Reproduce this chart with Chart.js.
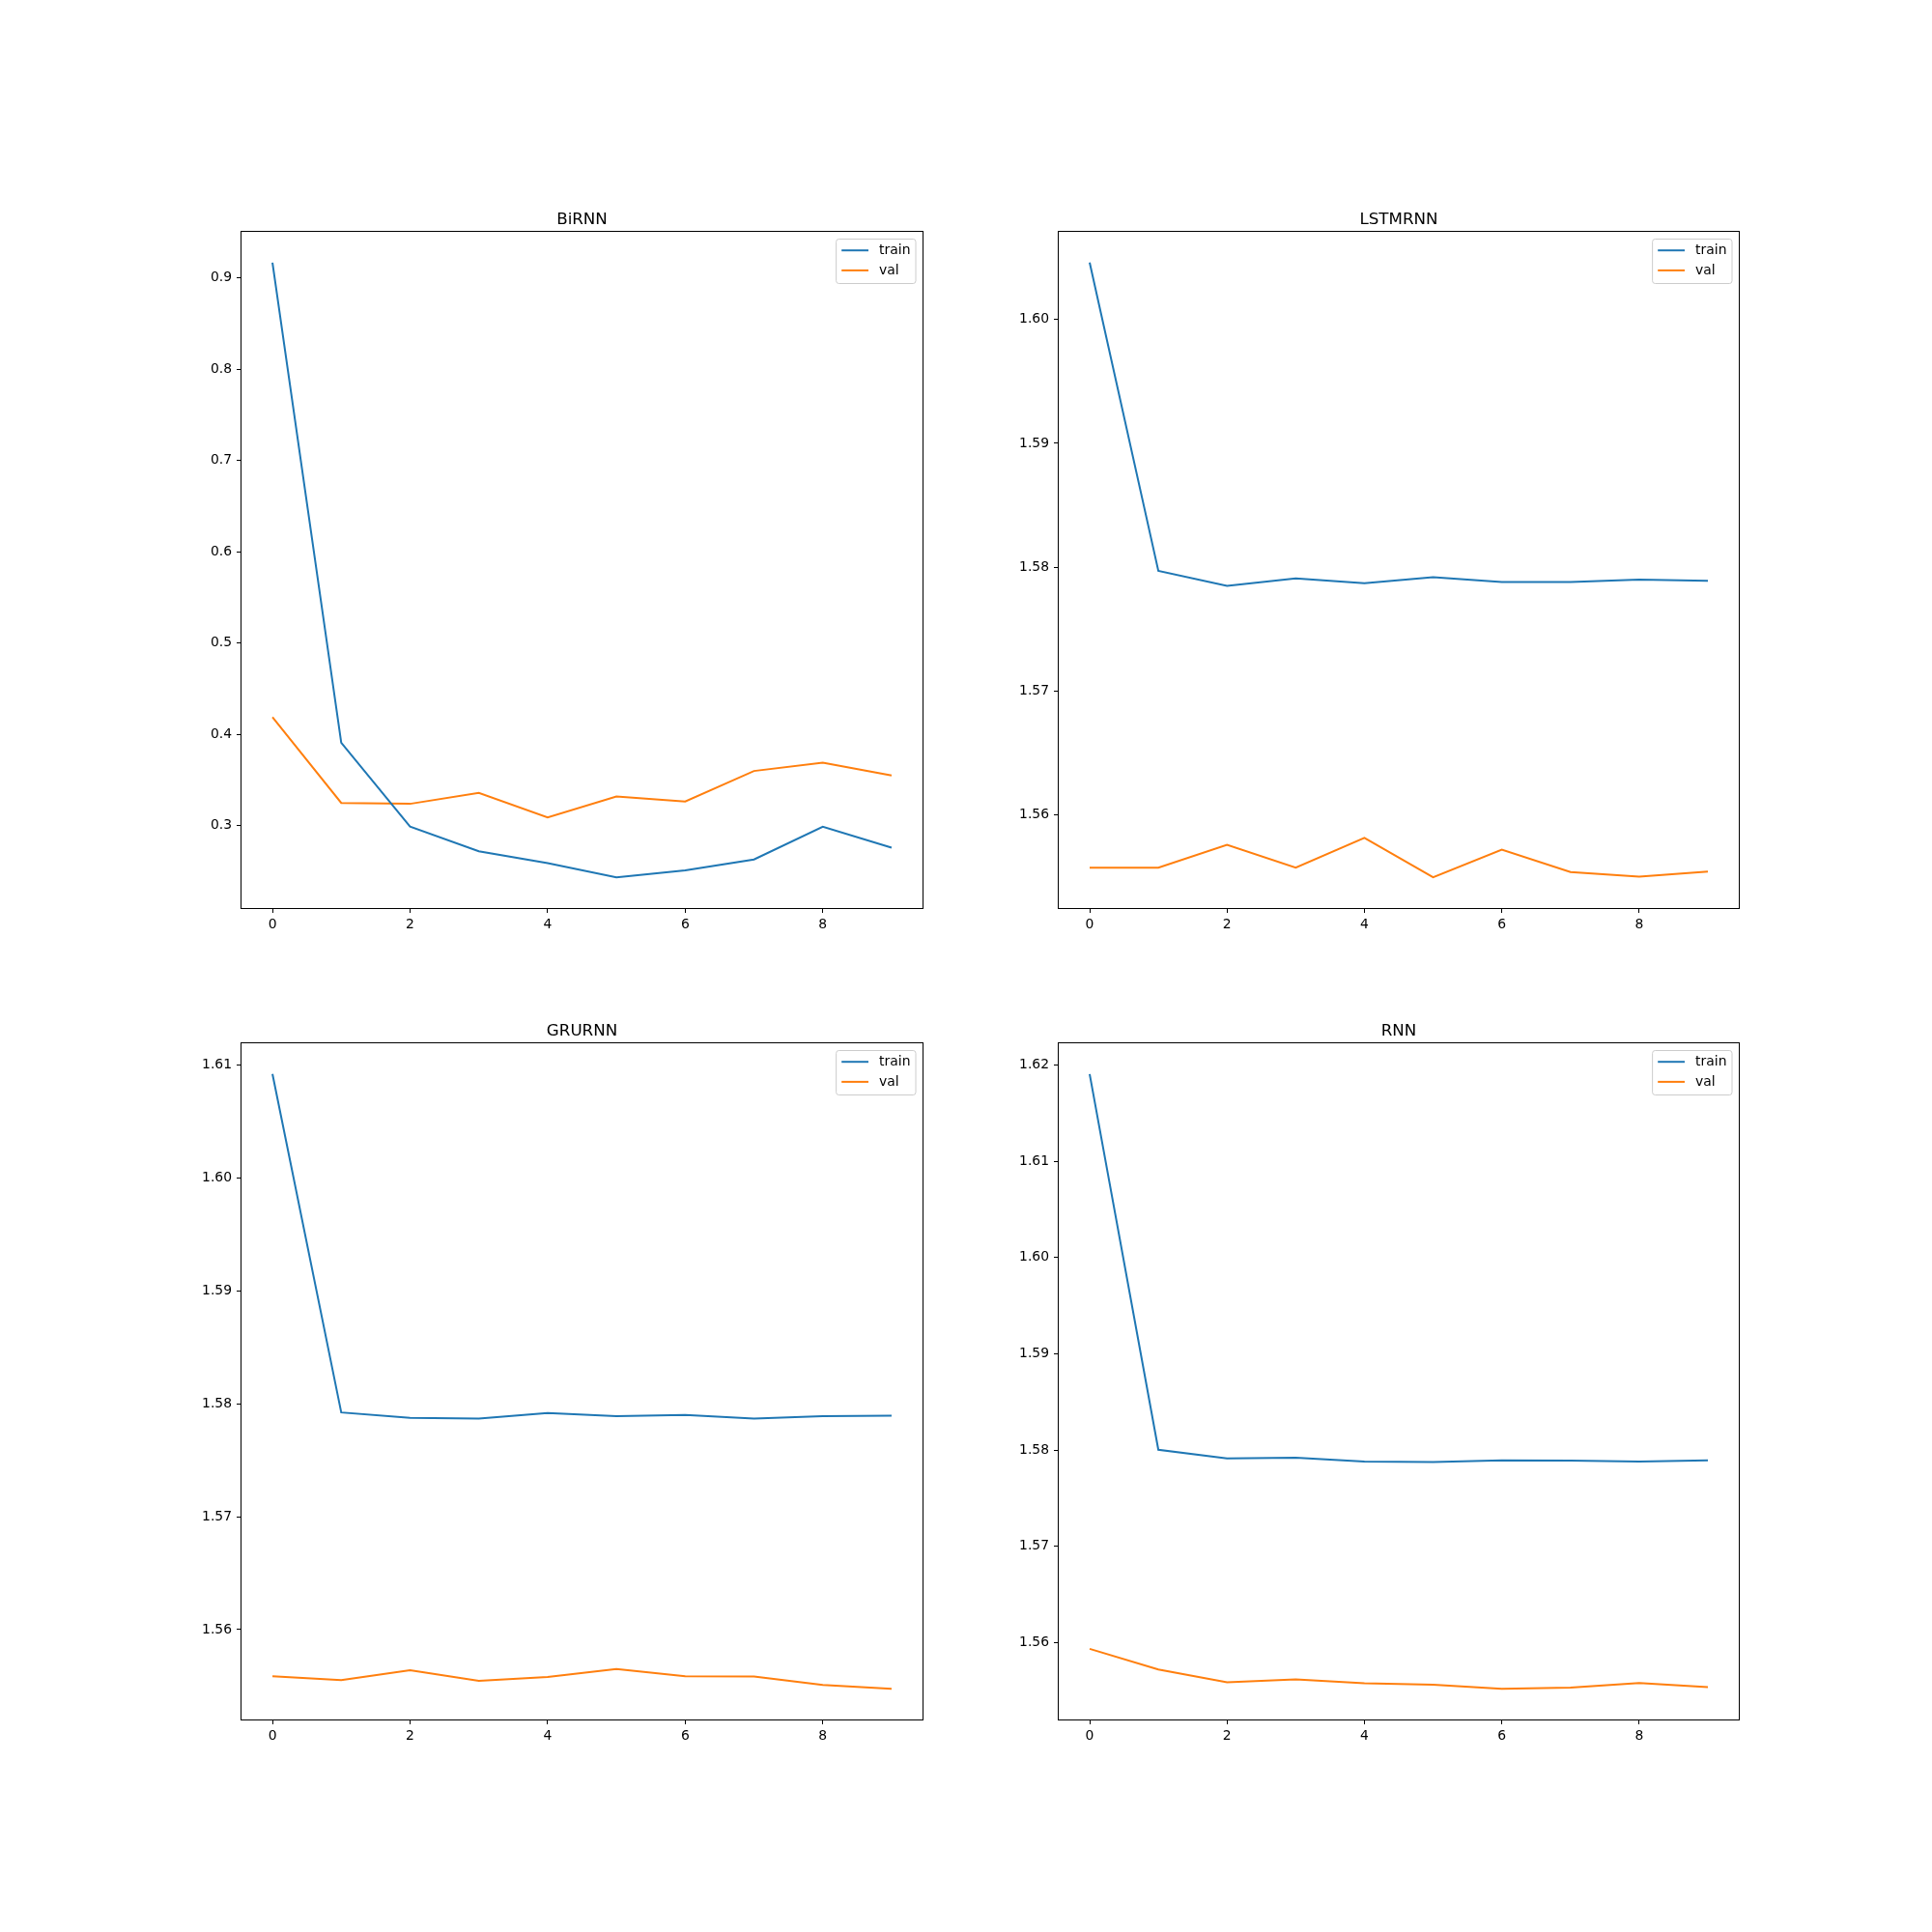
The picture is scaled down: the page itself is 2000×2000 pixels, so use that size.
<!DOCTYPE html>
<html>
<head>
<meta charset="utf-8">
<script src="https://cdn.jsdelivr.net/npm/chart.js@4.4.0/dist/chart.umd.min.js"></script>
<style>
  body { margin: 0; background: #fff; }
  #fig { position: relative; width: 2000px; height: 2000px; background: #fff; }
  #fig canvas { position: absolute; }
</style>
</head>
<body>
<div id="fig">
  <canvas id="birnn"></canvas>
  <canvas id="lstmrnn"></canvas>
  <canvas id="grurnn"></canvas>
  <canvas id="rnn"></canvas>
</div>
<script>
  // epochs + ticks
  const epochs = [0, 1, 2, 3, 4, 5, 6, 7, 8, 9];
  const xTicks = [0, 2, 4, 6, 8];
  const seriesLabels = ['train', 'val'];

  // values
  const birnnTrain = [0.917, 0.391, 0.299, 0.272, 0.259, 0.2435, 0.251, 0.263, 0.299, 0.276];
  const birnnVal   = [0.419, 0.325, 0.324, 0.336, 0.309, 0.332, 0.3265, 0.360, 0.369, 0.355];
  const birnnTicks = [0.3, 0.4, 0.5, 0.6, 0.7, 0.8, 0.9];

  const lstmTrain = [1.6046, 1.5797, 1.5785, 1.5791, 1.5787, 1.5792, 1.5788, 1.5788, 1.5790, 1.5789];
  const lstmVal   = [1.55574, 1.55574, 1.55758, 1.55574, 1.55815, 1.55496, 1.55719, 1.55538, 1.55501, 1.55543];
  const lstmTicks = [1.56, 1.57, 1.58, 1.59, 1.60];

  const gruTrain = [1.6092, 1.57923, 1.57875, 1.57869, 1.57918, 1.57889, 1.57901, 1.57869, 1.57889, 1.57895];
  const gruVal   = [1.55587, 1.55553, 1.55641, 1.55547, 1.55581, 1.5565, 1.55587, 1.55584, 1.5551, 1.55476];
  const gruTicks = [1.56, 1.57, 1.58, 1.59, 1.60, 1.61];

  const rnnTrain = [1.61905, 1.58004, 1.57914, 1.5792, 1.5788, 1.57877, 1.57894, 1.5789, 1.5788, 1.57894];
  const rnnVal   = [1.55936, 1.55722, 1.55589, 1.55619, 1.55579, 1.55565, 1.55522, 1.55535, 1.55582, 1.55539];
  const rnnTicks = [1.56, 1.57, 1.58, 1.59, 1.60, 1.61, 1.62];

  const BLUE = '#1f77b4';
  const ORANGE = '#ff7f0e';
  const FONT = '"DejaVu Sans", "Liberation Sans", sans-serif';

  // matplotlib style 5% margins
  function padRange(arr) {
    let lo = Math.min(...arr), hi = Math.max(...arr);
    let m = (hi - lo) * 0.05;
    return [lo - m, hi + m];
  }

  /**************frame, title and legend drawn like matplotlib**************/
  const mplDecor = {
    id: 'mplDecor',
    afterDraw(chart, args, opts) {
      const ctx = chart.ctx, a = chart.chartArea;
      ctx.save();
      // frame, snapped to whole pixels so it stays crisp
      ctx.strokeStyle = '#000';
      ctx.lineWidth = 1;
      ctx.strokeRect(a.left - 0.5, a.top - 0.5, a.right - a.left + 1, a.bottom - a.top + 1);

      // title
      ctx.fillStyle = '#000';
      ctx.font = '16.7px ' + FONT;
      ctx.textAlign = 'center';
      ctx.textBaseline = 'alphabetic';
      ctx.fillText(opts.title, (a.left + a.right) / 2, a.top - 8.3);

      // legend
      const fs = 13.9;
      ctx.font = fs + 'px ' + FONT;
      const sets = chart.data.datasets;
      const textW = Math.max(...sets.map(d => ctx.measureText(d.label).width));
      const pad = 0.4 * fs, hl = 2 * fs, htp = 0.8 * fs;
      const boxW = pad + hl + htp + textW + pad;
      const boxH = 46;
      const boxR = a.right - 7, boxL = boxR - boxW, boxT = a.top + 7.5;
      ctx.beginPath();
      ctx.roundRect(boxL, boxT, boxW, boxH, 2.8);
      ctx.fillStyle = 'rgba(255,255,255,0.8)';
      ctx.fill();
      ctx.strokeStyle = '#cccccc';
      ctx.lineWidth = 1;
      ctx.stroke();
      ctx.textAlign = 'left';
      ctx.textBaseline = 'middle';
      sets.forEach((d, i) => {
        const y = boxT + 11.7 + i * 20.7;
        ctx.beginPath();
        ctx.moveTo(boxL + pad, y);
        ctx.lineTo(boxL + pad + hl, y);
        ctx.strokeStyle = d.borderColor;
        ctx.lineWidth = 2;
        ctx.stroke();
        ctx.fillStyle = '#000';
        ctx.fillText(d.label, boxL + pad + hl + htp, y + 0.5);
      });
      ctx.restore();
    }
  };

  /**************one subplot**************/
  function makePlot(id, title, train, val, yTicks, decimals, axLeft, axTop, axW, axH) {
    const cv = document.getElementById(id);
    const padL = 110, padR = 30, padT = 60, padB = 60;
    cv.width = axW + padL + padR;
    cv.height = axH + padT + padB;
    cv.style.left = (axLeft - padL) + 'px';
    cv.style.top = (axTop - padT) + 'px';

    const yr = padRange(train.concat(val));
    const xr = padRange(epochs);

    new Chart(cv, {
      type: 'line',
      data: {
        datasets: [
          { label: seriesLabels[0], data: epochs.map((e, i) => ({ x: e, y: train[i] })),
            borderColor: BLUE, backgroundColor: BLUE, borderWidth: 2, pointRadius: 0, tension: 0, fill: false },
          { label: seriesLabels[1], data: epochs.map((e, i) => ({ x: e, y: val[i] })),
            borderColor: ORANGE, backgroundColor: ORANGE, borderWidth: 2, pointRadius: 0, tension: 0, fill: false }
        ]
      },
      options: {
        responsive: false,
        animation: false,
        devicePixelRatio: 1,
        layout: { padding: { left: 0, right: padR, top: padT, bottom: 0 } },
        plugins: {
          legend: { display: false },
          tooltip: { enabled: false },
          title: { display: false },
          mplDecor: { title: title }
        },
        scales: {
          x: {
            type: 'linear',
            min: xr[0], max: xr[1],
            afterBuildTicks: (s) => { s.ticks = xTicks.map(v => ({ value: v })); },
            afterFit: (s) => { s.height = padB; },
            grid: { display: true, drawOnChartArea: false, drawTicks: true, tickLength: 5, color: '#000', lineWidth: 1 },
            border: { display: false },
            ticks: { color: '#000', font: { family: FONT, size: 13.9 }, padding: 4, maxRotation: 0,
                     callback: (v) => String(v) }
          },
          y: {
            type: 'linear',
            min: yr[0], max: yr[1],
            afterBuildTicks: (s) => { s.ticks = yTicks.map(v => ({ value: v })); },
            afterFit: (s) => { s.width = padL; },
            grid: { display: true, drawOnChartArea: false, drawTicks: true, tickLength: 5, color: '#000', lineWidth: 1 },
            border: { display: false },
            ticks: { color: '#000', font: { family: FONT, size: 13.9 }, padding: 5,
                     callback: (v) => Number(v).toFixed(decimals) }
          }
        }
      },
      plugins: [mplDecor]
    });
  }

  makePlot('birnn', 'BiRNN', birnnTrain, birnnVal, birnnTicks, 1, 250, 240, 705, 700);
  makePlot('lstmrnn', 'LSTMRNN', lstmTrain, lstmVal, lstmTicks, 2, 1096, 240, 704, 700);
  makePlot('grurnn', 'GRURNN', gruTrain, gruVal, gruTicks, 2, 250, 1080, 705, 700);
  makePlot('rnn', 'RNN', rnnTrain, rnnVal, rnnTicks, 2, 1096, 1080, 704, 700);
</script>
</body>
</html>
